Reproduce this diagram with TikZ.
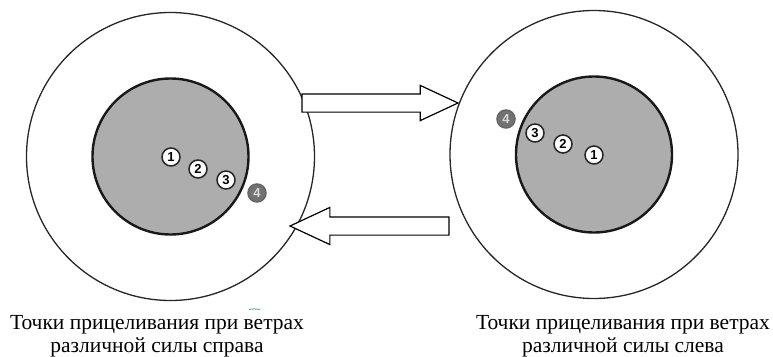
\documentclass[tikz,border=0pt]{standalone}
\usepackage{fontspec}
\setmainfont{Liberation Serif}
\setsansfont{Liberation Sans}
\usetikzlibrary{shapes.arrows}

\definecolor{bullgray}{HTML}{ADADAD}
\definecolor{hitgray}{HTML}{727272}

\tikzstyle{target} = [circle, draw = black!85, line width = 1.3pt, minimum size = 288pt, inner sep = 0pt]
\tikzstyle{bull} = [circle, draw = black!90, line width = 2.4pt, fill = bullgray, minimum size = 156pt, inner sep = 0pt]
\tikzstyle{hit} = [circle, draw = black!85, line width = 1.5pt, fill = white, minimum size = 18pt, inner sep = 0pt, font = \sffamily\bfseries\fontsize{13}{13}\selectfont]
\tikzstyle{lasthit} = [hit, draw = black!60, fill = hitgray, text = black!15]
\tikzstyle{bigarrow} = [single arrow, draw = black, line width = 1.2pt, fill = white, inner xsep = 0pt, inner ysep = 8.5pt, outer sep = 0pt, anchor = tail, single arrow tip angle = 50, single arrow head indent = 0pt]
\tikzstyle{caption} = [align = center, inner sep = 0pt, anchor = north, font = \fontsize{21.5}{23}\selectfont]

\begin{document}
\begin{tikzpicture}[x=1pt, y=-1pt]
	\useasboundingbox (0,0) rectangle (773,356);

	% targets
	\node (targetL) [target] at (170.5,156.5) {};
	\node (bullL) [bull] at (170.5,156.5) {};
	\node (targetR) [target] at (594,154.5) {};
	\node (bullR) [bull] at (594,154.5) {};

	% aiming points, wind from the right and from the left
	\foreach \n/\x/\y in {1/171/157, 2/198/169, 3/226/180}
		\node (hitL\n) [hit] at (\x,\y) {\n};
	\node (hitL4) [lasthit] at (257,193) {4};
	\foreach \n/\x/\y in {1/594/155, 2/563/144, 3/535/133}
		\node (hitR\n) [hit] at (\x,\y) {\n};
	\node (hitR4) [lasthit] at (506,119) {4};

	% arrows between the targets
	\node (toRight) [bigarrow, minimum height = 156pt, single arrow head extend = 8.5pt] at (302,103) {};
	\node (toLeft) [bigarrow, shape border rotate = 180, minimum height = 159pt, single arrow head extend = 9.5pt] at (449,226) {};

	\draw [teal!60, line width = 1pt] (249,309.5) to[bend left=10] (260,309.5);

	% captions
	\node (capL) [caption] at (157,315) {Точки прицеливания при ветрах\\различной силы справа};
	\node (capR) [caption] at (623,315) {Точки прицеливания при ветрах\\различной силы слева};
\end{tikzpicture}
\end{document}
